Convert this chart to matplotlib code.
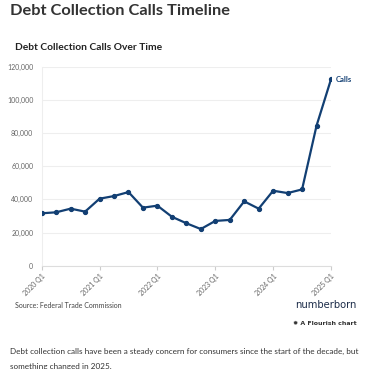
import matplotlib.pyplot as plt

# quarterly debt collection call counts, 2020 Q1 .. 2025 Q1
quarters = ['2020 Q1', '2020 Q2', '2020 Q3', '2020 Q4',
            '2021 Q1', '2021 Q2', '2021 Q3', '2021 Q4',
            '2022 Q1', '2022 Q2', '2022 Q3', '2022 Q4',
            '2023 Q1', '2023 Q2', '2023 Q3', '2023 Q4',
            '2024 Q1', '2024 Q2', '2024 Q3', '2024 Q4',
            '2025 Q1']
calls = [31600, 32200, 34400, 32600,
         40400, 42000, 44400, 35000,
         36200, 29500, 25600, 22100,
         27000, 27600, 38800, 34400,
         45200, 43800, 46000, 84400,
         112400]
y_ticks = [0, 20000, 40000, 60000, 80000, 100000, 120000]
x_tick_labels = ['2020 Q1', '2021 Q1', '2022 Q1', '2023 Q1', '2024 Q1', '2025 Q1']

LINE_COLOR = '#123f73'
GRID_COLOR = '#eeeeee'
TEXT_GRAY = '#666666'

plt.rcParams['font.family'] = ['Lato', 'DejaVu Sans']

W, H = 370, 369
fig = plt.figure(figsize=(W / 100, H / 100), dpi=100)
ax = fig.add_axes([41.7 / W, 1 - 265.7 / H, (331 - 41.7) / W, (265.7 - 66.7) / H])

x = list(range(len(quarters)))
ax.plot(x, calls, color=LINE_COLOR, lw=1.6, marker='o', ms=2.8, zorder=3)
ax.text(x[-1] + 0.35, calls[-1], 'Calls', color=LINE_COLOR, fontsize=5.5,
        fontweight='bold', va='center', ha='left')

ax.set_xlim(0, len(quarters) - 1)
ax.set_ylim(0, 120000)
ax.set_yticks(y_ticks)
ax.set_yticklabels([f'{v:,}' for v in y_ticks], fontsize=5, color=TEXT_GRAY)
ax.set_xticks([quarters.index(q) for q in x_tick_labels])
ax.set_xticklabels(x_tick_labels, fontsize=5, color=TEXT_GRAY, rotation=45,
                   ha='right', rotation_mode='anchor')
ax.tick_params(axis='y', length=0, pad=6)
ax.tick_params(axis='x', length=3, color='#cccccc', pad=2)
ax.grid(axis='y', color=GRID_COLOR, lw=0.8)
ax.set_axisbelow(True)
for side in ['top', 'right']:
    ax.spines[side].set_visible(False)
ax.spines['left'].set_color(GRID_COLOR)
ax.spines['left'].set_linewidth(0.8)
ax.spines['bottom'].set_color('#dddddd')
ax.spines['bottom'].set_linewidth(0.8)

fig.text(10 / W, 1 - 11 / H, 'Debt Collection Calls Timeline', fontsize=11.8,
         fontweight='bold', color='#333333', va='center', ha='left')
fig.text(15 / W, 1 - 48 / H, 'Debt Collection Calls Over Time', fontsize=7.4,
         fontweight='bold', color='#222222', va='center', ha='left')
fig.text(15 / W, 1 - 306 / H, 'Source: Federal Trade Commission', fontsize=5,
         color='#444444', va='center', ha='left')
fig.text(357 / W, 1 - 305 / H, 'numberborn', fontsize=8, color='#1d2d4a',
         va='center', ha='right', family=['DejaVu Sans'],
         fontstretch='condensed')
fig.text(357 / W, 1 - 323 / H, '\u2739 A Flourish chart', fontsize=4.5,
         color='#333333', va='center', ha='right',
         family=['DejaVu Sans'], fontweight='bold')
fig.text(10 / W, 1 - 351 / H,
         'Debt collection calls have been a steady concern for consumers since the start of the decade, but',
         fontsize=5.9, color='#333333', va='center', ha='left')
fig.text(10 / W, 1 - 366 / H, 'something changed in 2025.',
         fontsize=5.9, color='#333333', va='center', ha='left')

fig.savefig('out.png', dpi=100)
